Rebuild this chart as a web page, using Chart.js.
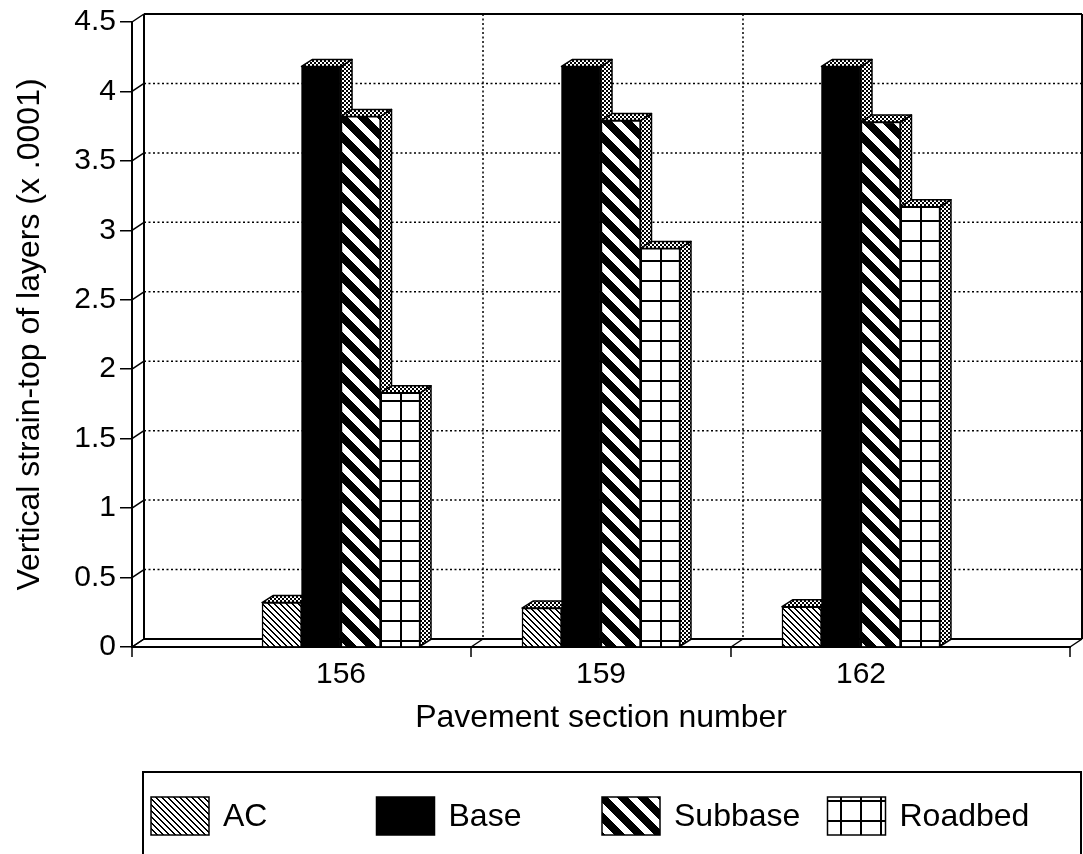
<!DOCTYPE html>
<html>
<head>
<meta charset="utf-8">
<script src="https://cdn.jsdelivr.net/npm/chart.js@4.4.1/dist/chart.umd.min.js"></script>
<style>
  html, body { margin: 0; padding: 0; background: #fff; }
</style>
</head>
<body>
<canvas id="strainChart" width="1083" height="854"></canvas>
<script>
// Vertical strain at the top of each pavement layer (x .0001)
const sections = ['156', '159', '162'];
const layerNames = ['AC', 'Base', 'Subbase', 'Roadbed'];
const acStrain = [0.32, 0.28, 0.29];
const baseStrain = [4.18, 4.18, 4.18];
const subbaseStrain = [3.82, 3.79, 3.78];
const roadbedStrain = [1.83, 2.87, 3.17];
const yTicks = [0, 0.5, 1, 1.5, 2, 2.5, 3, 3.5, 4, 4.5];

const layerValues = [acStrain, baseStrain, subbaseStrain, roadbedStrain];

// depth of the walls and of the bars (pixels right / up)
const WALL_DX = 12, WALL_DY = 8;
const BAR_DX = 11, BAR_DY = 7;
const FONT = '"Liberation Sans", Arial, Helvetica, sans-serif';

Chart.defaults.font.family = FONT;
Chart.defaults.color = '#000';

// small black & white bitmap fills
function pixelPattern(size, isInk) {
    const c = document.createElement('canvas');
    c.width = size;
    c.height = size;
    const g = c.getContext('2d');
    const img = g.createImageData(size, size);
    for (let py = 0; py < size; py++) {
        for (let px = 0; px < size; px++) {
            const v = isInk(px, py) ? 0 : 255;
            const k = (py * size + px) * 4;
            img.data[k] = img.data[k + 1] = img.data[k + 2] = v;
            img.data[k + 3] = 255;
        }
    }
    g.putImageData(img, 0, 0);
    return g.createPattern(c, 'repeat');
}

const acFill = pixelPattern(6, (x, y) => ((x - y + 6) % 6) < 2);
const subbaseFill = pixelPattern(20, (x, y) => ((x - y + 20) % 20) < 11);
const roadbedFill = pixelPattern(20, (x, y) => x < 2 || y < 2);
const stipple = pixelPattern(4, (x, y) => (((x >> 1) + (y >> 1)) % 2) === 0);
const layerFills = [acFill, '#000', subbaseFill, roadbedFill];

// boundaries between sections on the linear x scale
const boundaries = sections.slice(1).map((_, i) => i + 1.5);

function line(ctx, x1, y1, x2, y2) {
    ctx.beginPath();
    ctx.moveTo(x1, y1);
    ctx.lineTo(x2, y2);
    ctx.stroke();
}

function poly(ctx, pts) {
    ctx.beginPath();
    ctx.moveTo(pts[0][0], pts[0][1]);
    pts.slice(1).forEach(p => ctx.lineTo(p[0], p[1]));
    ctx.closePath();
    ctx.fill();
    ctx.stroke();
}

// walls, floor, the top/side faces of the bars and the boxed legend
const depthFrame = {
    id: 'depthFrame',
    beforeDatasetsDraw(chart) {
        const { ctx, chartArea: a, scales: { x, y } } = chart;
        const backTop = a.top - WALL_DY;
        const backBottom = a.bottom - WALL_DY;
        ctx.save();
        ctx.strokeStyle = '#000';

        // dotted grid on the back wall
        ctx.lineWidth = 1.5;
        ctx.setLineDash([2, 2.5]);
        yTicks.forEach(v => {
            if (v === yTicks[0] || v === yTicks[yTicks.length - 1]) return;
            const py = y.getPixelForValue(v) - WALL_DY;
            line(ctx, a.left + WALL_DX, py, a.right + WALL_DX, py);
        });
        boundaries.forEach(b => {
            const px = x.getPixelForValue(b) + WALL_DX;
            line(ctx, px, backTop, px, backBottom);
        });
        ctx.setLineDash([]);

        // wall outline
        ctx.lineWidth = 2;
        line(ctx, a.left + WALL_DX, backTop, a.right + WALL_DX, backTop);
        line(ctx, a.right + WALL_DX, backTop, a.right + WALL_DX, backBottom);
        line(ctx, a.left + WALL_DX, backTop, a.left + WALL_DX, backBottom);
        line(ctx, a.left + WALL_DX, backBottom, a.right + WALL_DX, backBottom);

        // side wall slants at each value, floor slants and ticks at each section edge
        ctx.lineWidth = 1.5;
        yTicks.forEach(v => {
            const py = y.getPixelForValue(v);
            line(ctx, a.left, py, a.left + WALL_DX, py - WALL_DY);
        });
        [a.left, ...boundaries.map(b => x.getPixelForValue(b)), a.right].forEach(px => {
            line(ctx, px, a.bottom, px + WALL_DX, backBottom);
            line(ctx, px, a.bottom, px, a.bottom + 10);
        });

        // bar tops and sides, left to right
        const bars = [];
        chart.getSortedVisibleDatasetMetas().forEach(meta => {
            meta.data.forEach(el => bars.push(el.getProps(['x', 'y', 'base', 'width'], true)));
        });
        bars.sort((p, q) => p.x - q.x);
        ctx.fillStyle = stipple;
        ctx.lineWidth = 1.5;
        ctx.lineJoin = 'round';
        bars.forEach(b => {
            const l = b.x - b.width / 2;
            const r = b.x + b.width / 2;
            poly(ctx, [[r, b.y], [r + BAR_DX, b.y - BAR_DY], [r + BAR_DX, b.base - BAR_DY], [r, b.base]]);
            poly(ctx, [[l, b.y], [l + BAR_DX, b.y - BAR_DY], [r + BAR_DX, b.y - BAR_DY], [r, b.y]]);
        });
        ctx.restore();
    },
    afterDraw(chart, args, opts) {
        // legend in equal columns inside an open frame
        const { ctx } = chart;
        const top = opts.top;
        ctx.save();
        ctx.strokeStyle = '#000';
        ctx.lineWidth = 2;
        ctx.beginPath();
        ctx.moveTo(opts.left, chart.height + 2);
        ctx.lineTo(opts.left, top);
        ctx.lineTo(opts.right, top);
        ctx.lineTo(opts.right, chart.height + 2);
        ctx.stroke();

        ctx.font = '32px ' + FONT;
        ctx.textBaseline = 'middle';
        ctx.fillStyle = '#000';
        ctx.lineWidth = 1.5;
        chart.data.datasets.forEach((ds, i) => {
            const sx = opts.firstX + i * opts.column;
            const sy = top + opts.boxTop;
            ctx.fillStyle = ds.backgroundColor;
            ctx.fillRect(sx, sy, opts.boxW, opts.boxH);
            ctx.strokeRect(sx, sy, opts.boxW, opts.boxH);
            ctx.fillStyle = '#000';
            ctx.fillText(ds.label, sx + opts.boxW + 14, sy + opts.boxH / 2 + 1);
        });
        ctx.restore();
    }
};

const ctx = document.getElementById('strainChart').getContext('2d');
new Chart(ctx, {
    type: 'bar',
    data: {
        datasets: layerNames.map((name, k) => ({
            label: name,
            data: layerValues[k].map((v, i) => ({ x: i + 1, y: v })),
            backgroundColor: layerFills[k],
            borderColor: '#000',
            borderWidth: 1.5,
            borderSkipped: 'start',
            barThickness: 39.5
        }))
    },
    options: {
        responsive: false,
        animation: false,
        devicePixelRatio: 1,
        layout: { padding: { top: 22, right: 13, bottom: 82, left: 0 } },
        plugins: {
            tooltip: { enabled: false },
            legend: { display: false },
            depthFrame: {
                top: 772, left: 143, right: 1081,
                firstX: 151, column: 225.5, boxTop: 25, boxW: 58, boxH: 38
            }
        },
        scales: {
            x: {
                type: 'linear',
                offset: false,
                min: 0.196,
                max: 3.804,
                afterBuildTicks: s => { s.ticks = sections.map((_, i) => ({ value: i + 1 })); },
                afterFit: s => { s.height = 125; },
                grid: { display: false, drawTicks: false },
                border: { display: true, color: '#000', width: 2 },
                ticks: {
                    color: '#000',
                    padding: 10,
                    autoSkip: false,
                    maxRotation: 0,
                    font: { size: 30 },
                    callback: v => sections[v - 1]
                },
                title: {
                    display: true,
                    text: 'Pavement section number',
                    color: '#000',
                    font: { size: 32 },
                    padding: { top: 0, bottom: 35 }
                }
            },
            y: {
                type: 'linear',
                min: 0,
                max: 4.5,
                afterBuildTicks: s => { s.ticks = yTicks.map(v => ({ value: v })); },
                afterFit: s => { s.width = 132; },
                grid: { drawOnChartArea: false, drawTicks: true, tickLength: 12, color: '#000', lineWidth: 1.5 },
                border: { display: true, color: '#000', width: 2 },
                ticks: { color: '#000', padding: 4, font: { size: 30 }, callback: v => String(v) },
                title: {
                    display: true,
                    text: 'Vertical strain-top of layers (x .0001)',
                    color: '#000',
                    font: { size: 32 },
                    padding: { top: 11, bottom: 0 }
                }
            }
        }
    },
    plugins: [depthFrame]
});
</script>
</body>
</html>
